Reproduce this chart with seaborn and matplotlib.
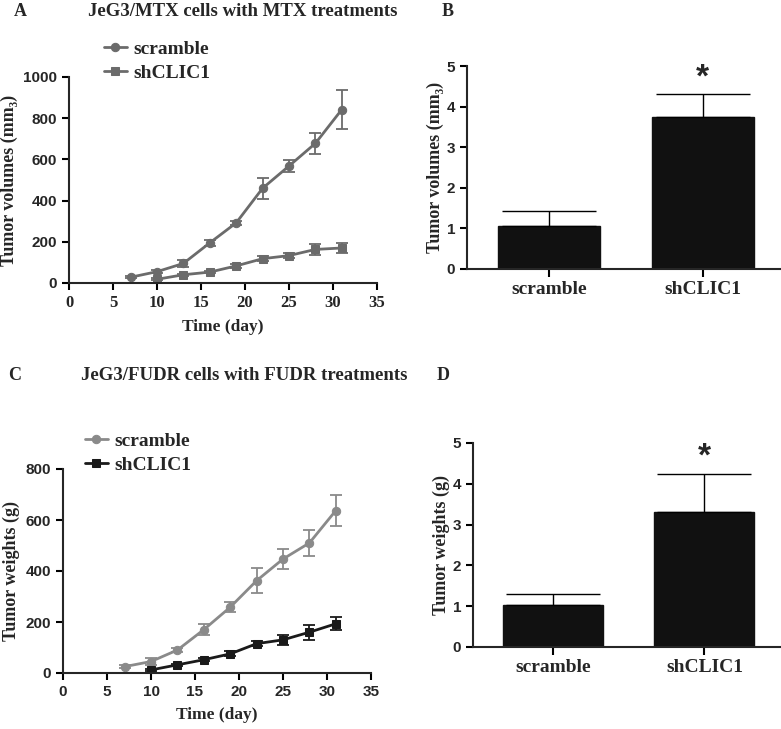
import numpy as np
import pandas as pd
import matplotlib
matplotlib.use("Agg")
import matplotlib.pyplot as plt
import seaborn as sns

# panel A: JeG3/MTX tumor volumes
days = [7, 10, 13, 16, 19, 22, 25, 28, 31]
mtx_scramble = [28, 55, 95, 195, 292, 460, 568, 678, 842]
mtx_scramble_err = [5, 8, 15, 15, 10, 50, 30, 50, 95]
mtx_sh_days = [10, 13, 16, 19, 22, 25, 28, 31]
mtx_sh = [18, 40, 53, 83, 118, 133, 163, 170]
mtx_sh_err = [5, 5, 5, 8, 12, 12, 25, 25]

# panel C: JeG3/FUDR tumor weights
fudr_scramble = [25, 45, 90, 170, 258, 362, 447, 510, 637]
fudr_scramble_err = [5, 15, 8, 22, 20, 50, 40, 50, 60]
fudr_sh_days = [10, 13, 16, 19, 22, 25, 28, 31]
fudr_sh = [12, 32, 52, 75, 115, 130, 160, 193]
fudr_sh_err = [5, 5, 5, 10, 10, 20, 30, 25]

# panels B and D
groups = ["scramble", "shCLIC1"]
vol_means = [1.07, 3.75]
vol_err = [0.35, 0.55]
wt_means = [1.03, 3.3]
wt_err = [0.27, 0.95]

sns.set_style("ticks")
SERIF = ["Liberation Serif", "DejaVu Serif"]
SANS = ["Liberation Sans", "DejaVu Sans"]
plt.rcParams["font.family"] = SERIF
plt.rcParams["axes.linewidth"] = 1.5
plt.rcParams["xtick.major.width"] = 1.5
plt.rcParams["ytick.major.width"] = 1.5

fig = plt.figure(figsize=(7.81, 7.29), dpi=100)
W, H = 781, 729


def add_ax(x0, x1, ytop, ybot):
    return fig.add_axes([x0 / W, 1 - ybot / H, (x1 - x0) / W, (ybot - ytop) / H])


def line_panel(ax, sc, sc_err, sh_days, sh, sh_err, c_sc, c_sh, ymax, ylabel,
               xtick_font, legend_xy):
    df_sc = pd.DataFrame({"day": days, "val": sc})
    df_sh = pd.DataFrame({"day": sh_days, "val": sh})
    sns.lineplot(data=df_sc, x="day", y="val", ax=ax, color=c_sc, marker="o",
                 markersize=6, markeredgecolor=c_sc, linewidth=2, label="scramble")
    sns.lineplot(data=df_sh, x="day", y="val", ax=ax, color=c_sh, marker="s",
                 markersize=6, markeredgecolor=c_sh, linewidth=2, label="shCLIC1")
    ax.errorbar(days, sc, yerr=sc_err, fmt="none", ecolor=c_sc, elinewidth=1.3,
                capsize=4, capthick=1.3)
    ax.errorbar(sh_days, sh, yerr=sh_err, fmt="none", ecolor=c_sh, elinewidth=1.3,
                capsize=4, capthick=1.3)
    ax.set_xlim(0, 35)
    ax.set_ylim(0, ymax)
    ax.set_xticks(range(0, 36, 5))
    ax.set_yticks(np.arange(0, ymax + 1, 200))
    ax.set_xlabel("Time (day)", fontsize=12.5, fontweight="bold", family=SERIF,
                  labelpad=6)
    ax.set_ylabel(ylabel, fontsize=13, fontweight="bold", family=SERIF)
    ax.tick_params(length=5, color="black")
    for t in ax.get_yticklabels():
        t.set_fontfamily(SANS)
        t.set_fontweight("bold")
        t.set_fontsize(11)
    for t in ax.get_xticklabels():
        t.set_fontfamily(xtick_font)
        t.set_fontweight("bold")
        t.set_fontsize(11 if xtick_font == SANS else 12)
    ax.spines["left"].set_bounds(0, ymax)
    sns.despine(ax=ax)
    ax.legend(loc="upper left", bbox_to_anchor=legend_xy, bbox_transform=fig.transFigure,
              frameon=False, handlelength=1.2, handletextpad=0.35, labelspacing=0.3,
              prop={"family": SERIF, "weight": "bold", "size": 14})


def bar_panel(ax, means, errs, ylabel):
    df = pd.DataFrame({"group": groups, "val": means})
    sns.barplot(data=df, x="group", y="val", ax=ax, color="#111111", width=0.66,
                edgecolor="#111111", errorbar=None)
    ax.errorbar([0, 1], means, yerr=[[0, 0], errs], fmt="none", ecolor="black",
                elinewidth=1, capsize=34, capthick=1)
    ax.text(1, means[1] + errs[1] + 0.03, "*", ha="center", va="bottom",
            fontsize=24, fontweight="bold", family=SANS)
    ax.set_xlim(-0.53, 1.5)
    ax.set_ylim(0, 5)
    ax.set_yticks(range(0, 6))
    ax.set_xlabel("")
    ax.set_ylabel(ylabel, fontsize=13, fontweight="bold", family=SERIF, labelpad=2)
    ax.tick_params(axis="y", length=5, color="black")
    ax.tick_params(axis="x", length=6, color="black", pad=3)
    for t in ax.get_yticklabels():
        t.set_fontfamily(SANS)
        t.set_fontweight("bold")
        t.set_fontsize(11)
    for t in ax.get_xticklabels():
        t.set_fontfamily(SERIF)
        t.set_fontweight("bold")
        t.set_fontsize(14)
    sns.despine(ax=ax)


axA = add_ax(69, 377, 77, 283)
line_panel(axA, mtx_scramble, mtx_scramble_err, mtx_sh_days, mtx_sh, mtx_sh_err,
           "#6b6b6b", "#6b6b6b", 1000, "Tumor volumes (mm\u2083)", SERIF,
           (86 / W, 1 - 23 / H))

axB = add_ax(467, 780, 66, 269)
bar_panel(axB, vol_means, vol_err, "Tumor volumes (mm\u2083)")

axC = add_ax(63, 371, 469, 673)
line_panel(axC, fudr_scramble, fudr_scramble_err, fudr_sh_days, fudr_sh, fudr_sh_err,
           "#8a8a8a", "#1a1a1a", 800, "Tumor weights (g)", SANS,
           (67 / W, 1 - 415 / H))

axD = add_ax(473, 780, 443, 647)
bar_panel(axD, wt_means, wt_err, "Tumor weights (g)")

# panel letters and titles
txt = dict(fontweight="bold", family=SERIF, va="center")
fig.text(14 / W, 1 - 11 / H, "A", fontsize=13, **txt)
fig.text(243 / W, 1 - 11 / H, "JeG3/MTX cells with MTX treatments", fontsize=13.5,
         ha="center", **txt)
fig.text(442 / W, 1 - 11 / H, "B", fontsize=13, **txt)
fig.text(8 / W, 1 - 375 / H, "C", fontsize=13, **txt)
fig.text(244 / W, 1 - 375 / H, "JeG3/FUDR cells with FUDR treatments", fontsize=13.5,
         ha="center", **txt)
fig.text(437 / W, 1 - 375 / H, "D", fontsize=13, **txt)

fig.savefig("out.png", dpi=100)
